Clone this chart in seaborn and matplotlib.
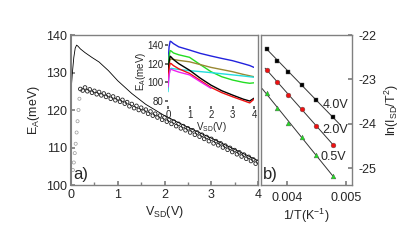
import numpy as np
import pandas as pd
import seaborn as sns
import matplotlib.pyplot as plt

# ---- panel a: main curve and open-circle data ----
fit_v = [0, 0.03, 0.06, 0.09, 0.12, 0.15, 0.2, 0.3, 0.45, 0.6, 0.8, 1.0, 1.3, 1.6,
         2.0, 2.5, 3.0, 3.5, 4.0]
fit_ea = [125, 130, 134, 136.5, 137.3, 137, 136.3, 135.3, 134, 132.8, 130.5, 127.8,
          124.4, 121.5, 118.5, 115.4, 112.5, 109.5, 106.5]

rise_v = [0.04, 0.06, 0.08, 0.10, 0.12, 0.14, 0.16, 0.18]
rise_ea = [104, 106, 108.5, 111, 114, 117, 120, 123]

circ_ea = [125.6, 125.2, 126.0, 125.0, 125.5, 124.6, 125.1, 124.2, 124.8, 123.9,
           124.4, 123.5, 124.0, 123.0, 123.6, 122.6, 123.1, 122.2, 122.7, 121.7,
           122.1, 121.0, 121.6, 120.5, 121.1, 120.0, 120.6, 119.6, 120.1, 119.0,
           119.6, 118.5, 119.0, 118.0, 118.5, 117.4, 118.0, 116.9, 117.4, 116.3,
           116.9, 115.7, 116.3, 115.1, 115.7, 114.6, 115.1, 114.0, 114.6, 113.4,
           114.0, 112.9, 113.4, 112.3, 112.8, 111.7, 112.3, 111.1, 111.7, 110.6,
           111.1, 110.0, 110.5, 109.4, 109.9, 108.8, 109.3, 108.2, 108.7, 107.6,
           108.1, 107.0, 107.5, 106.4, 106.8, 105.7, 106.2]
circ_v = np.linspace(0.2, 4.0, len(circ_ea))

# ---- inset curves ----
ins_v = [0, 0.05, 0.1, 0.15, 0.25, 0.5, 1, 1.5, 2, 2.5, 3, 3.5, 3.8, 4]
ins_blue = [118, 138, 144, 143.5, 141.5, 138, 134.6, 131, 128.2, 125.6, 123.2, 120, 118, 116]
ins_green = [110, 128, 134, 133.5, 131.5, 129.5, 126.8, 119, 111.4, 106, 102.5, 100, 99, 99.5]
ins_olive = [108, 120, 124.5, 125, 124.6, 123.5, 122, 119, 116, 113.7, 111.4, 108.5, 107, 106]
ins_cyan = [90, 108, 114.5, 115, 114.6, 113.8, 112.5, 111.5, 110.4, 109.2, 108, 106.8, 106, 105.5]
ins_black = [105, 122, 128, 127, 124.5, 120, 113, 104.5, 97, 91, 86.4, 82, 80, 83]
ins_red = [100, 115, 120.4, 120, 118, 114.5, 109.6, 102, 94.6, 89, 84.6, 80.5, 78, 82]
ins_magenta = [95, 108, 113, 114, 113, 111, 108, 100.7, 93.6]

# ---- panel b: Arrhenius data ----
inv_t = [0.003666, 0.003836, 0.004022, 0.004249, 0.004492, 0.004775]
ln_40 = [-22.31, -22.58, -22.84, -23.12, -23.46, -23.85]
ln_20 = [-22.79, -23.07, -23.35, -23.66, -24.04, -24.47]
ln_05 = [-23.31, -23.65, -23.98, -24.30, -24.70, -25.17]
bias_labels = ["4.0V", "2.0V", "0.5V"]

sns.set_theme(style="ticks")
plt.rcParams['font.family'] = ['Liberation Sans', 'DejaVu Sans']
plt.rcParams['mathtext.fontset'] = 'custom'
plt.rcParams['mathtext.rm'] = 'Liberation Sans'
plt.rcParams['mathtext.it'] = 'Liberation Sans'

frame = '#808080'
fig = plt.figure(figsize=(4.15, 2.47), dpi=100)
fig.patch.set_facecolor('white')

ax = fig.add_axes([71/415, 62/247, 187/415, 150/247])
sns.scatterplot(x=rise_v, y=rise_ea, ax=ax, marker='o', s=5, facecolor='none',
                edgecolor='#999999', linewidth=0.5)
sns.scatterplot(x=circ_v, y=circ_ea, ax=ax, marker='o', s=7, facecolor='none',
                edgecolor='#222222', linewidth=0.6)
sns.lineplot(x=fit_v, y=fit_ea, ax=ax, color='black', lw=0.6, sort=False)
ax.set_xlim(0, 4)
ax.set_ylim(100, 140)
ax.set_xticks([0, 1, 2, 3, 4])
ax.set_xticks([0.5, 1.5, 2.5, 3.5], minor=True)
ax.set_yticks([100, 110, 120, 130, 140])
ax.tick_params(direction='in', labelsize=9, length=3, color=frame, pad=3)
ax.tick_params(which='minor', direction='in', length=2, color=frame)
ax.set_xlabel(r'V$_{\mathrm{SD}}$(V)', fontsize=9, labelpad=2)
ax.set_ylabel(r'E$_{\mathrm{A}}$(meV)', fontsize=9, labelpad=3)
for s in ax.spines.values():
    s.set_color(frame)
    s.set_linewidth(1.0)
ax.spines['left'].set_linewidth(1.5)
ax.text(0.01, 0.04, 'a)', transform=ax.transAxes, fontsize=12)

# inset
ins = fig.add_axes([168/415, (247 - 105.7)/247, 86/415, 68.2/247])
ins.patch.set_alpha(0)
for vals, col in [(ins_blue, '#2222dd'), (ins_green, '#22dd22'), (ins_olive, '#998833'),
                  (ins_cyan, '#22dddd'), (ins_black, 'black'), (ins_red, '#ee1111')]:
    sns.lineplot(x=ins_v, y=vals, ax=ins, color=col, lw=1.0, sort=False)
sns.lineplot(x=ins_v[:len(ins_magenta)], y=ins_magenta, ax=ins, color='#ee22ee',
             lw=1.0, sort=False)
ins.set_xlim(0, 4)
ins.set_ylim(75, 148)
ins.set_xticks([0, 1, 2, 3, 4])
ins.set_yticks([80, 100, 120, 140])
ins.tick_params(labelsize=7, length=2, pad=1, color='#555555')
ins.set_xlabel(r'V$_{\mathrm{SD}}$(V)', fontsize=7, labelpad=0)
ins.set_ylabel(r'E$_{\mathrm{A}}$(meV)', fontsize=7, labelpad=0)
for s in ins.spines.values():
    s.set_visible(False)

# panel b
bx = fig.add_axes([261/415, 62/247, 91/415, 150/247])
styles = [(ln_40, 'black', 's', (0.00364, 0.0049)),
          (ln_20, '#ee1111', 'o', (0.00363, 0.00481)),
          (ln_05, '#22dd22', '^', (0.00358, 0.00481))]
for (vals, col, mk, span), lab in zip(styles, bias_labels):
    k, b = np.polyfit(inv_t, vals, 1)
    xs = np.array(span)
    sns.lineplot(x=xs, y=k*xs + b, ax=bx, color='#333333', lw=0.7)
    sns.scatterplot(x=inv_t, y=vals, ax=bx, marker=mk, s=12, color=col,
                    edgecolor='#555555', linewidth=0.3, zorder=3)
bx.text(0.00461, -23.57, bias_labels[0], fontsize=9, va='center')
bx.text(0.004593, -24.13, bias_labels[1], fontsize=9, va='center')
bx.text(0.00456, -24.74, bias_labels[2], fontsize=9, va='center')
bx.set_xlim(0.00356, 0.0051)
bx.set_ylim(-25.38, -22)
bx.set_xticks([0.004, 0.005])
bx.set_xticklabels(['0.004', '0.005'])
bx.set_yticks([-22, -23, -24, -25])
bx.set_yticklabels(['-22', '-23', '-24', '-25'])
bx.yaxis.tick_right()
bx.yaxis.set_label_position('right')
bx.tick_params(direction='in', labelsize=9, length=3, color=frame, pad=5)
bx.set_xlabel(r'1/T(K$^{-1}$)', fontsize=9, labelpad=2)
bx.set_ylabel(r'ln(I$_{\mathrm{SD}}$/T$^{2}$)', fontsize=9, labelpad=4)
for s in bx.spines.values():
    s.set_color(frame)
    s.set_linewidth(1.0)
bx.text(0.02, 0.04, 'b)', transform=bx.transAxes, fontsize=12)

fig.savefig('out.png', dpi=100, facecolor='white')
